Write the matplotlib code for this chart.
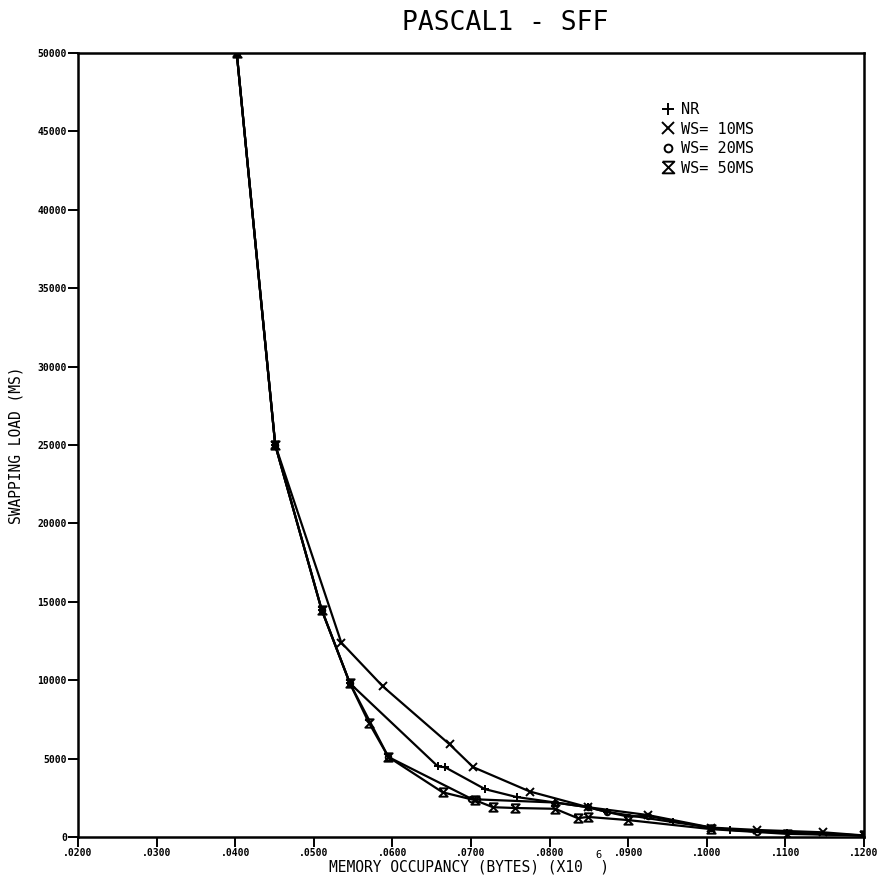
import numpy as np
import matplotlib
matplotlib.use("Agg")
import matplotlib.pyplot as plt

plt.rcParams['font.family'] = 'DejaVu Sans Mono'

# values
nr_x = [0.0402, 0.0451, 0.0510, 0.0546, 0.0658, 0.0667, 0.0718, 0.0758, 0.0807, 0.0849, 0.0873, 0.0957, 0.1030, 0.1102, 0.1200]
nr_y = [50000, 25000, 14500, 9800, 4500, 4450, 3050, 2550, 2200, 1900, 1600, 950, 450, 250, 100]

ws10_x = [0.0402, 0.0451, 0.0535, 0.0588, 0.0673, 0.0703, 0.0775, 0.0849, 0.0925, 0.1006, 0.1064, 0.1148, 0.1200]
ws10_y = [50000, 25000, 12400, 9600, 5900, 4450, 2900, 1900, 1400, 600, 450, 300, 100]

ws20_x = [0.0402, 0.0451, 0.0510, 0.0546, 0.0595, 0.0700, 0.0708, 0.0807, 0.0849, 0.0873, 0.0900, 0.0925, 0.1006, 0.1064, 0.1200]
ws20_y = [50000, 25000, 14500, 9800, 5100, 2450, 2400, 2200, 1900, 1600, 1300, 1350, 550, 350, 100]

ws50_x = [0.0402, 0.0451, 0.0510, 0.0546, 0.0570, 0.0595, 0.0664, 0.0705, 0.0728, 0.0756, 0.0807, 0.0836, 0.0849, 0.0900, 0.1006, 0.1102, 0.1200]
ws50_y = [50000, 25000, 14500, 9800, 7300, 5100, 2850, 2350, 1900, 1850, 1800, 1200, 1280, 1080, 500, 200, 100]

x_ticks = [0.02, 0.03, 0.04, 0.05, 0.06, 0.07, 0.08, 0.09, 0.10, 0.11, 0.12]
x_labels = ['.0200', '.0300', '.0400', '.0500', '.0600', '.0700', '.0800', '.0900', '.1000', '.1100', '.1200']
y_ticks = [0, 5000, 10000, 15000, 20000, 25000, 30000, 35000, 40000, 45000, 50000]

hourglass = [(-1, 1), (1, 1), (-1, -1), (1, -1), (-1, 1)]

fig = plt.figure(figsize=(8.85, 8.77), dpi=100)
ax = fig.add_axes([0.0881, 0.0456, 0.8881, 0.894])

kw = dict(color='black', lw=1.6, ms=6, mew=1.4)
ax.plot(nr_x, nr_y, marker='+', label='NR', **kw)
ax.plot(ws10_x, ws10_y, marker='x', label='WS= 10MS', **kw)
ax.plot(ws20_x, ws20_y, marker='o', mfc='none', label='WS= 20MS', color='black', lw=1.6, ms=4, mew=1.4)
ax.plot(ws50_x, ws50_y, marker=hourglass, mfc='none', label='WS= 50MS', **kw)

ax.set_xlim(0.02, 0.12)
ax.set_ylim(0, 50000)
ax.set_xticks(x_ticks)
ax.set_xticklabels(x_labels, fontsize=7, fontweight='bold')
ax.set_yticks(y_ticks)
ax.set_yticklabels([str(v) for v in y_ticks], fontsize=7, fontweight='bold')
ax.tick_params(direction='out', length=7, width=1.4, pad=1)
for s in ax.spines.values():
    s.set_linewidth(1.8)

leg = ax.legend(loc='upper left', bbox_to_anchor=(0.728, 0.955), frameon=False,
                handlelength=0.6, handletextpad=0.5, labelspacing=0.3,
                markerscale=1.4, prop={'size': 11})
for h in leg.legend_handles:
    h.set_linestyle('none')

fig.text(0.571, 0.974, 'PASCAL1 - SFF', ha='center', va='center', fontsize=19)
fig.text(0.530, 0.011, 'MEMORY OCCUPANCY (BYTES) (X10  )', ha='center', va='center', fontsize=10.5)
fig.text(0.676, 0.025, '6', ha='center', va='center', fontsize=7.5)
fig.text(0.018, 1 - 445 / 877, 'SWAPPING LOAD (MS)', rotation=90, ha='center', va='center', fontsize=10.5)

fig.savefig('out.png', dpi=100)
